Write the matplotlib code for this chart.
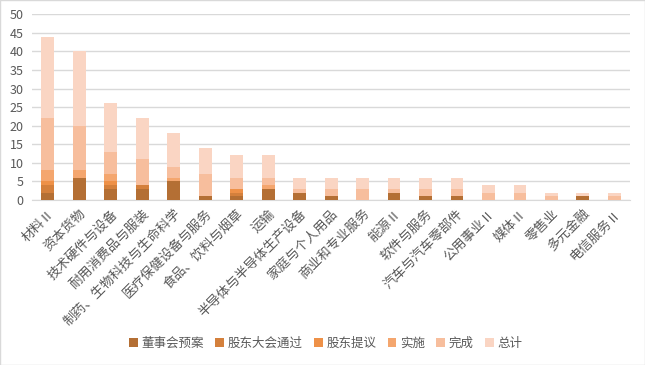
import numpy as np
import matplotlib.pyplot as plt
from matplotlib.patches import Rectangle

plt.rcParams['font.family'] = ['Noto Sans CJK SC', 'DejaVu Sans']

industries = ["材料Ⅱ", "资本货物", "技术硬件与设备", "耐用消费品与服装", "制药、生物科技与生命科学",
              "医疗保健设备与服务", "食品、饮料与烟草", "运输", "半导体与半导体生产设备",
              "家庭与个人用品", "商业和专业服务", "能源Ⅱ", "软件与服务", "汽车与汽车零部件",
              "公用事业Ⅱ", "媒体Ⅱ", "零售业", "多元金融", "电信服务Ⅱ"]

series_names = ["董事会预案", "股东大会通过", "股东提议", "实施", "完成", "总计"]
board_plan = [2, 6, 3, 3, 5, 1, 1, 3, 2, 1, 0, 2, 1, 1, 0, 0, 0, 1, 0]
shareholder_pass = [2, 0, 1, 1, 0, 0, 1, 0, 0, 0, 0, 0, 0, 0, 0, 0, 0, 0, 0]
shareholder_prop = [1, 0, 1, 0, 0, 0, 1, 0, 0, 0, 0, 0, 0, 0, 0, 0, 0, 0, 0]
implemented = [3, 2, 2, 0, 1, 0, 0, 1, 0, 0, 0, 0, 0, 0, 0, 0, 0, 0, 0]
completed = [14, 12, 6, 7, 3, 6, 3, 2, 1, 2, 3, 1, 2, 2, 2, 2, 1, 0, 1]
total = [22, 20, 13, 11, 9, 7, 6, 6, 3, 3, 3, 3, 3, 3, 2, 2, 1, 1, 1]

colors = ["#B46F34", "#D4803C", "#EE9148", "#F4A66E", "#F7BE9D", "#FAD5C3"]

fig = plt.figure(figsize=(6.45, 3.65), dpi=100)
ax = fig.add_axes([0.0496, 0.452, 0.9274, 0.5088])

x = np.arange(len(industries))
bottom = np.zeros(len(industries))
for name, vals, c in zip(series_names,
                         [board_plan, shareholder_pass, shareholder_prop, implemented, completed, total],
                         colors):
    ax.bar(x, vals, bottom=bottom, width=0.41, color=c, label=name, zorder=3)
    bottom += np.array(vals)

ax.set_xlim(-0.5, len(industries) - 0.5)
ax.set_ylim(0, 50)
ax.set_yticks(range(0, 51, 5))
ax.grid(axis='y', color='#D9D9D9', linewidth=1, zorder=0)
for s in ['top', 'right', 'left']:
    ax.spines[s].set_visible(False)
ax.spines['bottom'].set_color('#D9D9D9')
ax.tick_params(axis='both', length=0, colors='#595959', labelsize=9)
ax.tick_params(axis='y', pad=6)
ax.tick_params(axis='x', pad=5)
ax.set_xticks(x)
ax.set_xticklabels(industries, rotation=45, ha='right', rotation_mode='anchor', fontsize=9.5)

fig.legend(loc='center', bbox_to_anchor=(0.505, 0.06), ncol=6, frameon=False,
           fontsize=9, handlelength=0.7, handleheight=0.7, handletextpad=0.3,
           columnspacing=0.9, labelcolor='#595959')

fig.patches.append(Rectangle((0, 0), 1, 1, transform=fig.transFigure, fill=False,
                             edgecolor='#D9D9D9', linewidth=1))

fig.savefig("out.png", dpi=100)
